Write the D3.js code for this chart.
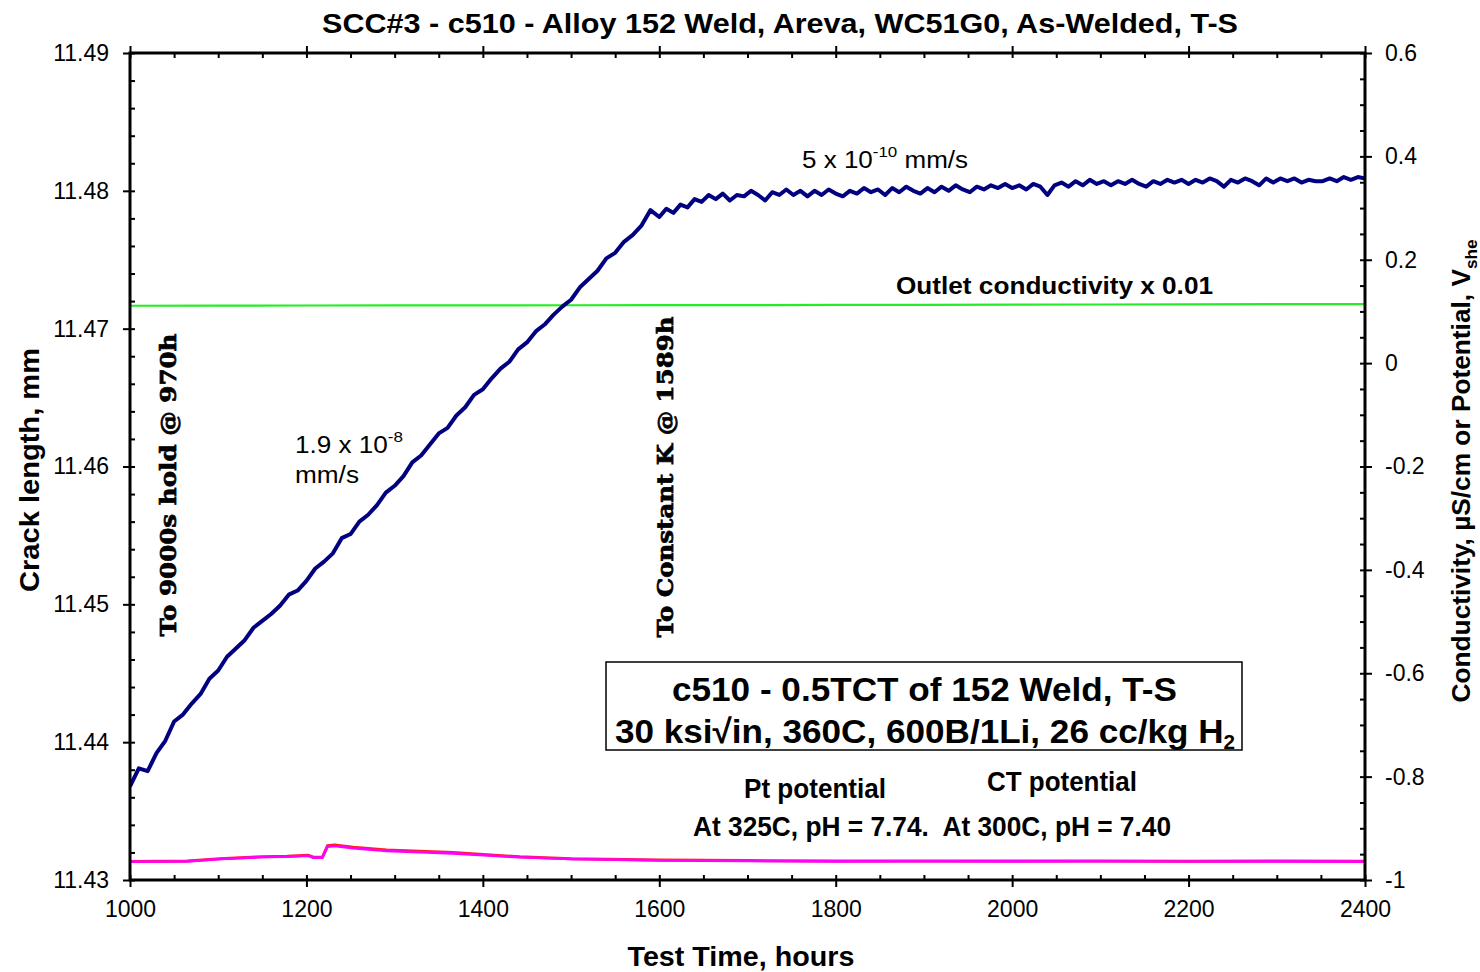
<!DOCTYPE html>
<html>
<head>
<meta charset="utf-8">
<script src="https://cdn.jsdelivr.net/npm/d3@7"></script>
<style>
  html, body { margin: 0; padding: 0; background: #fff; }
  svg { display: block; }
</style>
</head>
<body>
<svg id="chart" width="1480" height="972" font-family='"Liberation Sans", Arial, sans-serif'></svg>
<script>
// ---------------- DATA ----------------
const xTickLabels = [1000, 1200, 1400, 1600, 1800, 2000, 2200, 2400];
const yLeftTickLabels = [11.43, 11.44, 11.45, 11.46, 11.47, 11.48, 11.49];
const yRightTickLabels = [-1, -0.8, -0.6, -0.4, -0.2, 0, 0.2, 0.4, 0.6];

// Crack length (mm) - growth portion
const growthHours = [1000,1010,1020,1030,1040,1050,1060,1070,1080,1090,1100,1110,1120,1130,1140,1150,1160,1170,1180,1190,
  1200,1210,1220,1230,1240,1250,1260,1270,1280,1290,1300,1310,1320,1330,1340,1350,1360,1370,1380,1390,
  1400,1410,1420,1430,1440,1450,1460,1470,1480,1490,1500,1510,1520,1530,1540,1550,1560,1570,1580,1590];
const growthLength = [11.4368,11.4381,11.4379,11.4392,11.4401,11.4415,11.4420,11.4428,11.4435,11.4446,11.4452,11.4462,11.4468,11.4474,11.4483,11.4488,11.4493,11.4499,11.4507,11.4510,
  11.4517,11.4526,11.4531,11.4537,11.4548,11.4551,11.4560,11.4565,11.4572,11.4581,11.4586,11.4593,11.4603,11.4608,11.4616,11.4624,11.4628,11.4637,11.4643,11.4652,
  11.4656,11.4664,11.4671,11.4676,11.4685,11.4690,11.4698,11.4703,11.4710,11.4716,11.4721,11.4730,11.4736,11.4742,11.4751,11.4755,11.4763,11.4768,11.4775,11.4786];

// Crack length (mm) - constant K plateau
const plateauHours = [1600,1608,1616,1624,1632,1640,1648,1656,1664,1672,1680,1688,1696,1704,1712,1720,1728,1736,1744,1752,
  1760,1768,1776,1784,1792,1800,1808,1816,1824,1832,1840,1848,1856,1864,1872,1880,1888,1896,1904,1912,
  1920,1928,1936,1944,1952,1960,1968,1976,1984,1992,2000,2008,2016,2024,2032,2040,2048,2056,2064,2072,
  2080,2088,2096,2104,2112,2120,2128,2136,2144,2152,2160,2168,2176,2184,2192,2200,2208,2216,2224,2232,
  2240,2248,2256,2264,2272,2280,2288,2296,2304,2312,2320,2328,2336,2344,2352,2360,2368,2376,2384,2392,2400];
const plateauLength = [11.4781,11.4787,11.4784,11.4790,11.4788,11.4794,11.4792,11.4797,11.4794,11.4798,11.4793,11.4797,11.4796,11.4800,11.4797,11.4793,11.4799,11.4797,11.4801,11.4797,
  11.4800,11.4796,11.4800,11.4797,11.4801,11.4798,11.4796,11.4800,11.4798,11.4802,11.4799,11.4801,11.4797,11.4802,11.4799,11.4803,11.4800,11.4798,11.4802,11.4799,
  11.4803,11.4800,11.4804,11.4801,11.4799,11.4803,11.4801,11.4804,11.4802,11.4805,11.4802,11.4804,11.4801,11.4805,11.4803,11.4797,11.4804,11.4806,11.4803,11.4807,
  11.4804,11.4808,11.4805,11.4807,11.4804,11.4807,11.4805,11.4808,11.4805,11.4803,11.4807,11.4805,11.4808,11.4806,11.4808,11.4805,11.4808,11.4806,11.4809,11.4807,
  11.4803,11.4808,11.4806,11.4809,11.4807,11.4804,11.4809,11.4806,11.4809,11.4807,11.4809,11.4806,11.4808,11.4807,11.4807,11.4809,11.4807,11.4810,11.4808,11.4810,11.4809];

// Outlet conductivity x 0.01 (right axis)
const condHours = [1000,1100,1200,1300,1400,1500,1600,1700,1800,1900,2000,2100,2200,2300,2400];
const condValue = [0.1110,0.1112,0.1115,0.1117,0.1118,0.1120,0.1122,0.1123,0.1126,0.1128,0.1131,0.1134,0.1136,0.1140,0.1143];

// Pt potential (right axis, V_she)
const ptHours = [1000,1065,1102,1151,1178,1202,1208,1218,1224,1232,1253,1291,1366,1442,1500,1600,1700,1800,1900,2000,2100,2200,2300,2400];
const ptValue = [-0.9646,-0.9640,-0.9594,-0.9555,-0.9549,-0.9530,-0.9568,-0.9568,-0.9356,-0.9342,-0.9387,-0.9439,-0.9484,-0.9561,-0.9595,-0.9620,-0.9630,-0.9640,-0.9636,-0.9640,-0.9638,-0.9642,-0.9640,-0.9644];
// CT potential (right axis, V_she)
const ctHours = [1000,1065,1102,1151,1178,1202,1208,1218,1224,1232,1253,1291,1366,1442,1500,1600,1700,1800,1900,2000,2100,2200,2300,2400];
const ctValue = [-0.9640,-0.9634,-0.9588,-0.9548,-0.9541,-0.9522,-0.9560,-0.9560,-0.9336,-0.9322,-0.9367,-0.9421,-0.9470,-0.9550,-0.9588,-0.9614,-0.9624,-0.9634,-0.9630,-0.9634,-0.9632,-0.9636,-0.9634,-0.9638];

// ---------------- CHART ----------------
const svg = d3.select("#chart");
const L = 130, R = 1365, T = 53, B = 880;

const x = d3.scaleLinear().domain([1000, 2400]).range([L, R]);
const yL = d3.scaleLinear().domain([11.43, 11.49]).range([B, T]);
const yR = d3.scaleLinear().domain([-1, 0.6]).range([B, T]);

const xMinor = d3.range(1050, 2400, 50).filter(v => v % 200 !== 0);
const yLMinor = d3.range(0, 31).map(i => 11.43 + i * 0.002).filter((v, i) => i % 5 !== 0);
const yRMinor = d3.range(0, 33).map(i => -1 + i * 0.05).filter((v, i) => i % 4 !== 0);

const fontStack = '"Liberation Sans", Arial, sans-serif';
const narrowStack = '"Liberation Sans Narrow", "Liberation Sans", Arial, sans-serif';
const serifStack = '"DejaVu Serif", "Liberation Serif", serif';

function styleAxis(g) {
  g.select(".domain").remove();
  g.selectAll(".tick line").attr("stroke", "#000").attr("stroke-width", 2);
  g.selectAll(".tick text").attr("fill", "#000").attr("font-size", 23).attr("font-family", fontStack);
}

// Bottom axis
svg.append("g").attr("transform", `translate(0,${B})`)
  .call(d3.axisBottom(x).tickValues(xTickLabels).tickSize(7).tickPadding(14).tickFormat(d => String(d)))
  .call(styleAxis);
svg.append("g").attr("transform", `translate(0,${B})`)
  .call(d3.axisBottom(x).tickValues(xTickLabels.concat(xMinor)).tickSize(-5).tickFormat(""))
  .call(styleAxis);
// Top axis (ticks only)
svg.append("g").attr("transform", `translate(0,${T})`)
  .call(d3.axisTop(x).tickValues(xTickLabels).tickSize(7).tickFormat(""))
  .call(styleAxis);
svg.append("g").attr("transform", `translate(0,${T})`)
  .call(d3.axisTop(x).tickValues(xTickLabels.concat(xMinor)).tickSize(-5).tickFormat(""))
  .call(styleAxis);
// Left axis
svg.append("g").attr("transform", `translate(${L},0)`)
  .call(d3.axisLeft(yL).tickValues(yLeftTickLabels).tickSize(7).tickPadding(14).tickFormat(d3.format(".2f")))
  .call(styleAxis);
svg.append("g").attr("transform", `translate(${L},0)`)
  .call(d3.axisLeft(yL).tickValues(yLeftTickLabels.concat(yLMinor)).tickSize(-5).tickFormat(""))
  .call(styleAxis);
// Right axis
svg.append("g").attr("transform", `translate(${R},0)`)
  .call(d3.axisRight(yR).tickValues(yRightTickLabels).tickSize(7).tickPadding(13).tickFormat(d => String(+d.toFixed(1))))
  .call(styleAxis);
svg.append("g").attr("transform", `translate(${R},0)`)
  .call(d3.axisRight(yR).tickValues(yRightTickLabels.concat(yRMinor)).tickSize(-5).tickFormat(""))
  .call(styleAxis);

// Lines
svg.append("clipPath").attr("id", "plotclip")
  .append("rect").attr("x", L).attr("y", T).attr("width", R - L).attr("height", B - T);
const plot = svg.append("g").attr("clip-path", "url(#plotclip)");

const lineR = (hs, vs) => d3.line().x((d, i) => x(hs[i])).y(d => yR(d))(vs);
const crackHours = growthHours.concat(plateauHours);
const crackLength = growthLength.concat(plateauLength);

plot.append("path").attr("d", lineR(condHours, condValue))
  .attr("fill", "none").attr("stroke", "#22ee22").attr("stroke-width", 2.2);
plot.append("path").attr("d", lineR(ctHours, ctValue))
  .attr("fill", "none").attr("stroke", "#ff2020").attr("stroke-width", 3);
plot.append("path").attr("d", lineR(ptHours, ptValue))
  .attr("fill", "none").attr("stroke", "#ff00ff").attr("stroke-width", 2.6);
plot.append("path")
  .attr("d", d3.line().x((d, i) => x(crackHours[i])).y(d => yL(d))(crackLength))
  .attr("fill", "none").attr("stroke", "#000080").attr("stroke-width", 4).attr("stroke-linejoin", "round");

// Frame
svg.append("rect").attr("x", L).attr("y", T).attr("width", R - L).attr("height", B - T)
  .attr("fill", "none").attr("stroke", "#000").attr("stroke-width", 3);

// Title
svg.append("text").attr("x", 780).attr("y", 33).attr("text-anchor", "middle")
  .attr("font-family", fontStack).attr("font-size", 27).attr("font-weight", "bold")
  .attr("textLength", 916).attr("lengthAdjust", "spacingAndGlyphs")
  .text("SCC#3 - c510 - Alloy 152 Weld, Areva, WC51G0, As-Welded, T-S");

// Axis titles
svg.append("text").attr("transform", "translate(39,470) rotate(-90)").attr("text-anchor", "middle")
  .attr("font-family", fontStack).attr("font-size", 27).attr("font-weight", "bold")
  .attr("textLength", 244).attr("lengthAdjust", "spacingAndGlyphs")
  .text("Crack length, mm");
svg.append("text").attr("x", 741).attr("y", 966).attr("text-anchor", "middle")
  .attr("font-family", fontStack).attr("font-size", 27).attr("font-weight", "bold")
  .attr("textLength", 227).attr("lengthAdjust", "spacingAndGlyphs")
  .text("Test Time, hours");
const rt = svg.append("text").attr("transform", "translate(1470,471) rotate(-90)").attr("text-anchor", "middle")
  .attr("font-family", fontStack).attr("font-size", 26).attr("font-weight", "bold")
  .attr("textLength", 463).attr("lengthAdjust", "spacingAndGlyphs");
rt.append("tspan").text("Conductivity, \u00B5S/cm or Potential, V");
rt.append("tspan").attr("font-size", 17).attr("dy", 7).text("she");

// Vertical event annotations (serif bold)
svg.append("text").attr("transform", "translate(176,485) rotate(-90)").attr("text-anchor", "middle")
  .attr("font-family", serifStack).attr("font-size", 23).attr("font-weight", "bold")
  .attr("stroke", "#000").attr("stroke-width", 0.7)
  .attr("textLength", 303).attr("lengthAdjust", "spacingAndGlyphs")
  .text("To 9000s hold @ 970h");
svg.append("text").attr("transform", "translate(673,477) rotate(-90)").attr("text-anchor", "middle")
  .attr("font-family", serifStack).attr("font-size", 23).attr("font-weight", "bold")
  .attr("stroke", "#000").attr("stroke-width", 0.7)
  .attr("textLength", 321).attr("lengthAdjust", "spacingAndGlyphs")
  .text("To Constant K @ 1589h");

// Rate annotations
const r1 = svg.append("text").attr("x", 295).attr("y", 453).attr("font-family", fontStack).attr("font-size", 23)
  .attr("textLength", 108).attr("lengthAdjust", "spacingAndGlyphs");
r1.append("tspan").text("1.9 x 10");
r1.append("tspan").attr("font-size", 15).attr("dy", -11).text("-8");
svg.append("text").attr("x", 295).attr("y", 483).attr("font-family", fontStack).attr("font-size", 23)
  .attr("textLength", 64).attr("lengthAdjust", "spacingAndGlyphs").text("mm/s");

const r2 = svg.append("text").attr("x", 802).attr("y", 168).attr("font-family", fontStack).attr("font-size", 23)
  .attr("textLength", 166).attr("lengthAdjust", "spacingAndGlyphs");
r2.append("tspan").text("5 x 10");
r2.append("tspan").attr("font-size", 15).attr("dy", -11).text("-10");
r2.append("tspan").attr("dy", 11).text(" mm/s");

svg.append("text").attr("x", 896).attr("y", 294).attr("font-family", fontStack).attr("font-size", 23).attr("font-weight", "bold")
  .attr("textLength", 317).attr("lengthAdjust", "spacingAndGlyphs")
  .text("Outlet conductivity x 0.01");

// Info box
svg.append("rect").attr("x", 606).attr("y", 662).attr("width", 636).attr("height", 88)
  .attr("fill", "#fff").attr("stroke", "#000").attr("stroke-width", 1.5);
svg.append("text").attr("x", 924.5).attr("y", 701).attr("text-anchor", "middle")
  .attr("font-family", narrowStack).attr("font-size", 34).attr("font-weight", "bold")
  .attr("textLength", 505).attr("lengthAdjust", "spacingAndGlyphs")
  .text("c510 - 0.5TCT of 152 Weld, T-S");
const b2 = svg.append("text").attr("x", 615).attr("y", 743)
  .attr("font-family", narrowStack).attr("font-size", 34).attr("font-weight", "bold")
  .attr("textLength", 620).attr("lengthAdjust", "spacingAndGlyphs");
b2.append("tspan").text("30 ksi\u221Ain, 360C, 600B/1Li, 26 cc/kg H");
b2.append("tspan").attr("font-size", 20).attr("dy", 6).text("2");

// Potential labels
svg.append("text").attr("x", 815).attr("y", 798).attr("text-anchor", "middle")
  .attr("font-family", narrowStack).attr("font-size", 27).attr("font-weight", "bold")
  .attr("textLength", 142).attr("lengthAdjust", "spacingAndGlyphs")
  .text("Pt potential");
svg.append("text").attr("x", 1062).attr("y", 791).attr("text-anchor", "middle")
  .attr("font-family", narrowStack).attr("font-size", 27).attr("font-weight", "bold")
  .attr("textLength", 150).attr("lengthAdjust", "spacingAndGlyphs")
  .text("CT potential");
svg.append("text").attr("x", 693).attr("y", 836)
  .attr("font-family", narrowStack).attr("font-size", 27).attr("font-weight", "bold")
  .attr("textLength", 478).attr("lengthAdjust", "spacingAndGlyphs")
  .attr("xml:space", "preserve")
  .text("At 325C, pH = 7.74.  At 300C, pH = 7.40");
</script>
</body>
</html>
